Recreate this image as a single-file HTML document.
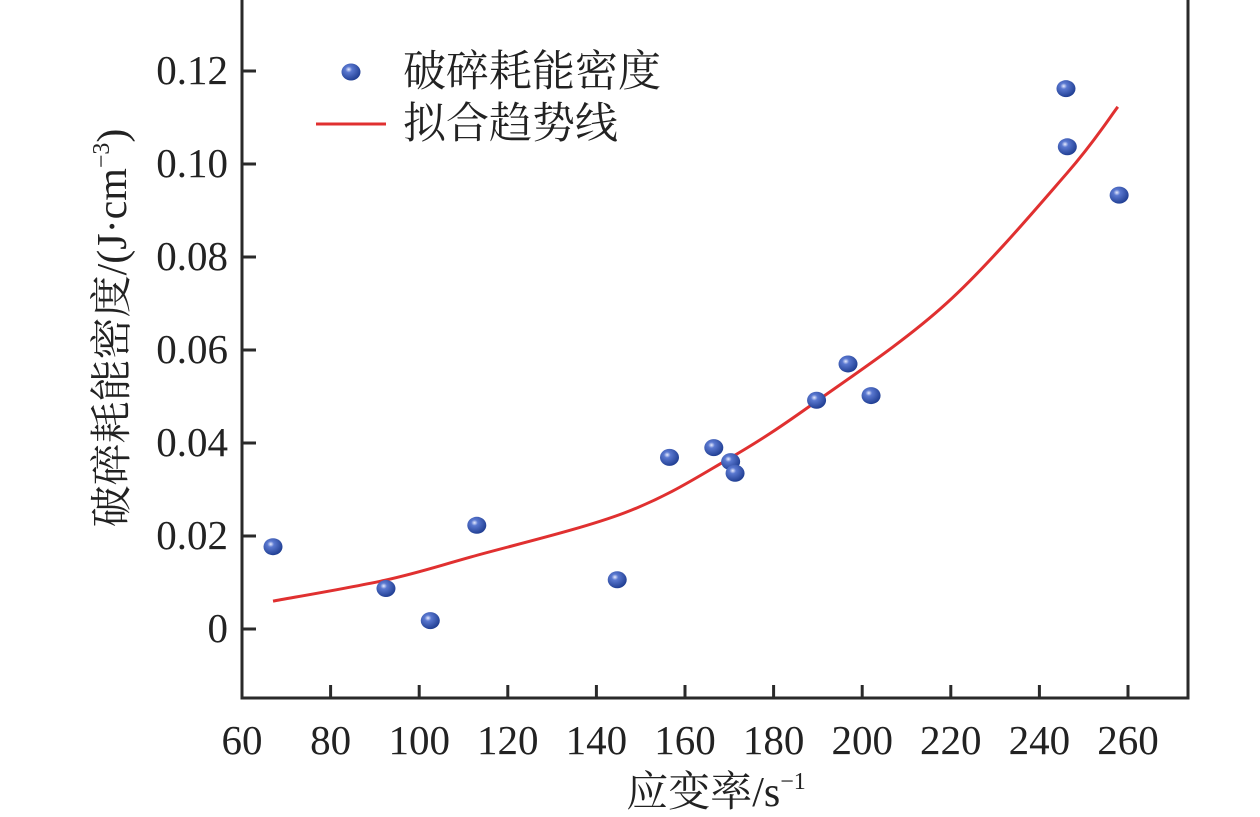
<!DOCTYPE html>
<html><head><meta charset="utf-8"><style>
html,body{margin:0;padding:0;background:#fff;}
svg{display:block;}
text{font-family:"Liberation Serif","Noto Serif CJK SC",serif;fill:#222;}
</style></head><body>
<svg id="chart" width="1260" height="817" viewBox="0 0 1260 817" xmlns="http://www.w3.org/2000/svg">
<defs>
<radialGradient id="ball" cx="0.38" cy="0.35" r="0.7">
<stop offset="0" stop-color="#e8ecff"/><stop offset="0.25" stop-color="#5a78d0"/><stop offset="1" stop-color="#1c3a8e"/>
</radialGradient>
</defs>
<g id="plot"></g>
</svg>
<script>
const xTicks=[60,80,100,120,140,160,180,200,220,240,260];
const yTicks=[0,0.02,0.04,0.06,0.08,0.10,0.12];
const yTickLabels=["0","0.02","0.04","0.06","0.08","0.10","0.12"];
const strainRate=[67,92.5,102.5,113,144.7,156.5,166.5,170.3,171.3,189.7,196.8,202,246,246.3,258];
const energyDensity=[0.0177,0.0087,0.0018,0.0223,0.0106,0.0369,0.039,0.036,0.0335,0.0492,0.057,0.0502,0.1162,0.1037,0.0933];
const fitX=[67,92.3,111.7,146.4,169.7,189.6,219.1,246.2,257.7];
const fitY=[0.006,0.0105,0.0155,0.0250,0.0365,0.0489,0.0701,0.098,0.1123];

const L=242,R=1188,T=0,B=698;
const sx=v=>242+(v-60)*4.43;
const sy=v=>629-v*4650;
const NS="http://www.w3.org/2000/svg";
const g=document.getElementById('plot');
function mk(tag,attrs,parent){const e=document.createElementNS(NS,tag);for(const k in attrs)e.setAttribute(k,attrs[k]);(parent||g).appendChild(e);return e;}

const P=fitX.map((x,i)=>[sx(x),sy(fitY[i])]);
let d="M"+P[0][0]+","+P[0][1];
for(let i=0;i<P.length-1;i++){
 const p0=P[Math.max(0,i-1)],p1=P[i],p2=P[i+1],p3=P[Math.min(P.length-1,i+2)];
 const c1=[p1[0]+(p2[0]-p0[0])/6,p1[1]+(p2[1]-p0[1])/6];
 const c2=[p2[0]-(p3[0]-p1[0])/6,p2[1]-(p3[1]-p1[1])/6];
 d+="C"+c1.join(",")+" "+c2.join(",")+" "+p2.join(",");
}
const curve=mk('path',{d:d,fill:'none',stroke:'#e03030','stroke-width':3});



strainRate.forEach((x,i)=>{
 const c=mk('ellipse',{cx:sx(x),cy:sy(energyDensity[i]),rx:9.5,ry:8.5,fill:'url(#ball)'});
 
 
});

const fr=mk('rect',{x:L,y:T-2,width:R-L,height:B-T+2,fill:'none',stroke:'#2a2a2a','stroke-width':3});



xTicks.forEach(v=>{
 const t=mk('line',{x1:sx(v),x2:sx(v),y1:B,y2:B-13,stroke:'#2a2a2a','stroke-width':3});
 
 
 const lb=mk('text',{x:sx(v),y:B+56,'font-size':41,'text-anchor':'middle'});
 lb.textContent=v;
 
 
});
yTicks.forEach((v,i)=>{
 const t=mk('line',{x1:L,x2:L+14,y1:sy(v),y2:sy(v),stroke:'#2a2a2a','stroke-width':3});
 
 
 const lb=mk('text',{x:L-14,y:sy(v)+13,'font-size':41,'text-anchor':'end'});
 lb.textContent=yTickLabels[i];
 
 
});
</script>
<svg style="position:absolute;left:0;top:0" width="1260" height="817">
<text x="716" y="806" font-size="42" text-anchor="middle">应变率/s<tspan font-size="24" dy="-17">−1</tspan></text>
<g transform="translate(126,328) rotate(-90)">
<text x="0" y="0" font-size="42" text-anchor="middle">破碎耗能密度/(J·cm<tspan font-size="24" dy="-17">−3</tspan><tspan dy="17">)</tspan></text>
</g>
<g>
<ellipse cx="351" cy="72" rx="9.5" ry="8.5" fill="url(#ball)"/>
<text x="403" y="86" font-size="43">破碎耗能密度</text>
<line x1="316" x2="386" y1="124" y2="124" stroke="#e03030" stroke-width="3"/>
<text x="403" y="138" font-size="43">拟合趋势线</text>
</g>
</svg>
</body></html>
